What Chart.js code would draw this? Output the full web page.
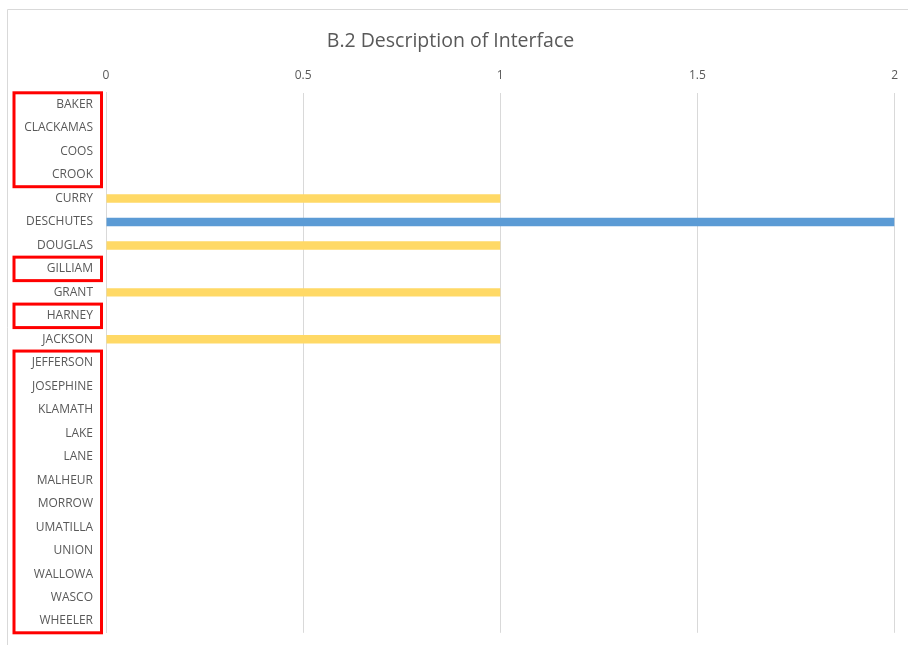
<!DOCTYPE html>
<html>
<head>
<meta charset="utf-8">
<script src="https://cdn.jsdelivr.net/npm/chart.js@4/dist/chart.umd.min.js"></script>
<style>
  body { margin: 0; background: #fff; }
  #wrap { position: absolute; left: 0; top: 0; width: 908px; height: 645px; }
</style>
</head>
<body>
<div id="wrap"><canvas id="chart" width="908" height="645"></canvas></div>
<script>
"use strict"

const counties = ["BAKER", "CLACKAMAS", "COOS", "CROOK", "CURRY", "DESCHUTES", "DOUGLAS",
  "GILLIAM", "GRANT", "HARNEY", "JACKSON", "JEFFERSON", "JOSEPHINE", "KLAMATH", "LAKE",
  "LANE", "MALHEUR", "MORROW", "UMATILLA", "UNION", "WALLOWA", "WASCO", "WHEELER"];
const yellowValues = [0, 0, 0, 0, 1, 0, 1, 0, 1, 0, 1, 0, 0, 0, 0, 0, 0, 0, 0, 0, 0, 0, 0];
const blueValues   = [0, 0, 0, 0, 0, 2, 0, 0, 0, 0, 0, 0, 0, 0, 0, 0, 0, 0, 0, 0, 0, 0, 0];
// groups of labels marked with red boxes [first, last]
const markedGroups = [[0, 3], [7, 7], [9, 9], [11, 22]];

//////////    plugins    ///////////////

const frame = {
  id: 'frame',
  beforeDraw(chart) {
    const ctx = chart.ctx;
    ctx.save();
    ctx.strokeStyle = '#d9d9d9';
    ctx.lineWidth = 1;
    ctx.beginPath();
    ctx.moveTo(7.5, 650);
    ctx.lineTo(7.5, 9.5);
    ctx.lineTo(910, 9.5);
    ctx.stroke();
    ctx.restore();
  }
};

const redBoxes = {
  id: 'redBoxes',
  afterDraw(chart) {
    const ctx = chart.ctx, y = chart.scales.y;
    const half = (y.getPixelForValue(1) - y.getPixelForValue(0)) / 2;
    ctx.save();
    ctx.strokeStyle = '#ff0000';
    ctx.lineWidth = 3;
    markedGroups.forEach(g => {
      const top = y.getPixelForValue(g[0]) - half;
      const bottom = y.getPixelForValue(g[1]) + half;
      const left = 14, right = chart.chartArea.left - 4.5;
      ctx.strokeRect(left, top, right - left, bottom - top);
    });
    ctx.restore();
  }
};

new Chart('chart', {
  type: 'bar',
  data: {
    labels: counties,
    datasets: [
      { data: yellowValues, backgroundColor: '#ffd966', barPercentage: 0.36, categoryPercentage: 1 },
      { data: blueValues, backgroundColor: '#5b9bd5', barPercentage: 0.36, categoryPercentage: 1 }
    ]
  },
  options: {
    indexAxis: 'y',
    responsive: false,
    animation: false,
    layout: { padding: { left: 0, right: 7, top: 0, bottom: 2 } },
    plugins: {
      legend: { display: false },
      tooltip: { enabled: false },
      title: {
        display: true,
        text: 'B.2 Description of Interface',
        color: '#595959',
        font: { family: 'Open Sans', size: 19.5, weight: 'normal' },
        padding: { top: 30, bottom: 5 }
      }
    },
    scales: {
      x: {
        position: 'top',
        stacked: true,
        min: 0,
        max: 2,
        ticks: {
          stepSize: 0.5, color: '#595959', padding: 10,
          font: { family: 'Open Sans', size: 12 },
          callback: v => String(v)
        },
        grid: { color: '#d9d9d9', drawTicks: false },
        border: { display: false }
      },
      y: {
        stacked: true,
        ticks: { color: '#595959', font: { family: 'Open Sans', size: 12 }, padding: 5, autoSkip: false },
        grid: { display: false },
        border: { color: '#d9d9d9' },
        afterFit(scale) { scale.width = 106; }
      }
    }
  },
  plugins: [frame, redBoxes]
});
</script>
</body>
</html>
